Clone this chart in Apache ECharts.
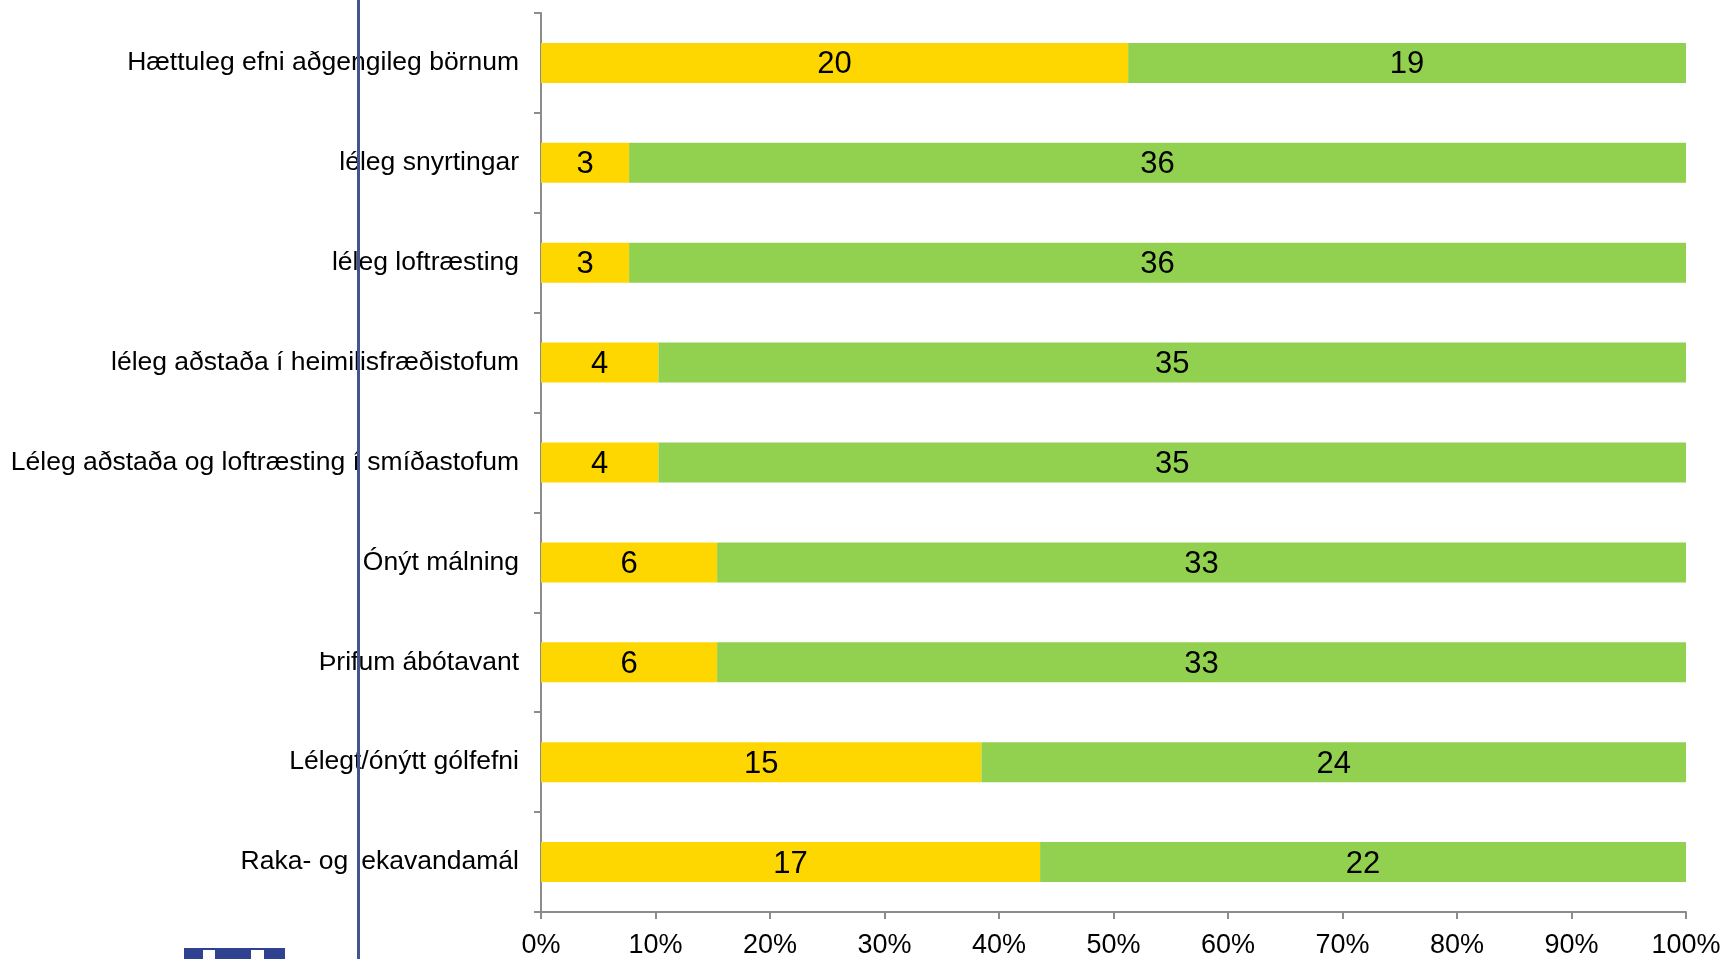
<!DOCTYPE html>
<html>
<head>
<meta charset="utf-8">
<script src="https://cdn.jsdelivr.net/npm/echarts@6/dist/echarts.min.js"></script>
<style>
  html, body { margin: 0; padding: 0; background: #fff; }
  #chart { width: 1726px; height: 959px; }
</style>
</head>
<body>
<div id="chart"></div>
<script>
var categories = [
  "Hættuleg efni aðgengileg börnum",
  "léleg snyrtingar",
  "léleg loftræsting",
  "léleg aðstaða í heimilisfræðistofum",
  "Léleg aðstaða og loftræsting í smíðastofum",
  "Ónýt málning",
  "Þrifum ábótavant",
  "Lélegt/ónýtt gólfefni",
  "Raka- og lekavandamál"
];
var yesValues = [20, 3, 3, 4, 4, 6, 6, 15, 17];
var noValues = [19, 36, 36, 35, 35, 33, 33, 24, 22];
var xTicks = [0, 10, 20, 30, 40, 50, 60, 70, 80, 90, 100];

// 100% stacked: share of each row, label shows the count
function share(vals, i) {
  return vals[i] / (yesValues[i] + noValues[i]) * 100;
}
var yesData = yesValues.map(function (v, i) { return { value: share(yesValues, i), count: v }; });
var noData = noValues.map(function (v, i) { return { value: share(noValues, i), count: v }; });

var myChart = echarts.init(document.getElementById("chart"));

var labelStyle = {
  show: true,
  position: "inside",
  color: "#000",
  fontSize: 31,
  fontFamily: "Liberation Sans, Arial, sans-serif",
  offset: [0, 2],
  formatter: function (p) { return p.data.count; }
};

var option = {
  animation: false,
  grid: { left: 541, right: 40, top: 13, bottom: 46 },
  xAxis: {
    type: "value",
    min: 0,
    max: 100,
    interval: 10,
    splitLine: { show: false },
    axisLine: { show: true, lineStyle: { color: "#8c8c8c", width: 2 } },
    axisTick: { show: true, length: 7, lineStyle: { color: "#8c8c8c", width: 2 } },
    axisLabel: {
      color: "#000",
      fontSize: 27,
      fontFamily: "Liberation Sans, Arial, sans-serif",
      margin: 20,
      formatter: function (v) { return xTicks.indexOf(v) >= 0 ? v + "%" : ""; }
    }
  },
  yAxis: {
    type: "category",
    data: categories,
    inverse: true,
    axisLine: { show: true, lineStyle: { color: "#8c8c8c", width: 2 } },
    axisTick: { show: true, length: 7, lineStyle: { color: "#8c8c8c", width: 2 } },
    axisLabel: {
      color: "#000",
      fontSize: 26.5,
      fontFamily: "Liberation Sans, Arial, sans-serif",
      margin: 22
    }
  },
  series: [
    {
      type: "bar",
      stack: "all",
      barWidth: 40,
      itemStyle: { color: "#FFD700" },
      label: labelStyle,
      data: yesData
    },
    {
      type: "bar",
      stack: "all",
      barWidth: 40,
      itemStyle: { color: "#92D050" },
      label: labelStyle,
      data: noData
    }
  ],
  graphic: [
    {
      type: "rect",
      shape: { x: 357, y: 0, width: 3, height: 959 },
      style: { fill: "#44548f" },
      z: 100
    },
    {
      type: "rect",
      shape: { x: 184, y: 948, width: 101, height: 11 },
      style: { fill: "#2e4290" },
      z: 100
    },
    {
      type: "rect",
      shape: { x: 203, y: 950, width: 12, height: 9 },
      style: { fill: "#fff" },
      z: 101
    },
    {
      type: "rect",
      shape: { x: 251, y: 950, width: 13, height: 9 },
      style: { fill: "#fff" },
      z: 101
    }
  ]
};
myChart.setOption(option);
</script>
</body>
</html>
